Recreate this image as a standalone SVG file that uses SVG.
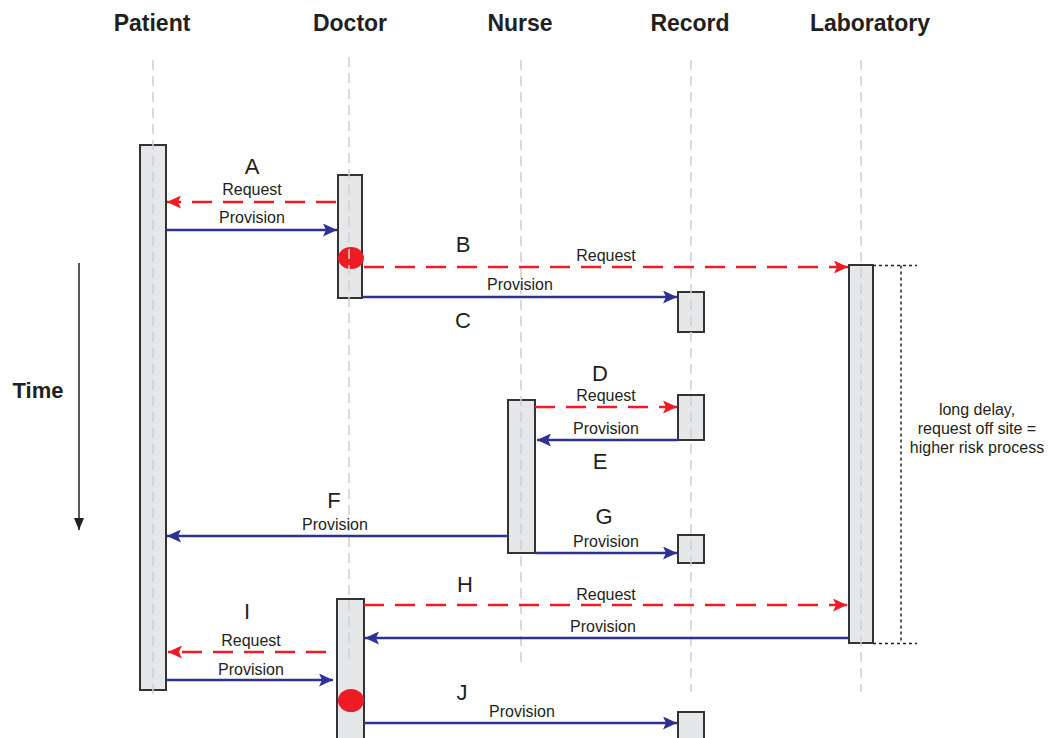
<svg xmlns="http://www.w3.org/2000/svg" width="1050" height="738" viewBox="0 0 1050 738">
<style>
.hdr{font-family:"Liberation Sans",Arial,sans-serif;font-weight:bold;font-size:23px;fill:#231F20;text-anchor:middle}
.lbl{font-family:"Liberation Sans",Arial,sans-serif;font-size:16px;fill:#231F20;text-anchor:middle}
.let{font-family:"Liberation Sans",Arial,sans-serif;font-size:22px;fill:#231F20;text-anchor:middle}
.life{stroke:#CFCFCF;stroke-width:1.5;stroke-dasharray:10,6;fill:none}
.box{fill:#E6E7E8;stroke:#333;stroke-width:2}
.req{stroke:#ED1C24;stroke-width:2.5;stroke-dasharray:20,11;fill:none}
.prov{stroke:#2E3192;stroke-width:2.5;fill:none}
.dot{fill:#ED1C24}
.brk{stroke:#231F20;stroke-width:1.5;stroke-dasharray:3,3;fill:none}
</style>
<defs>
<marker id="ar" markerUnits="userSpaceOnUse" markerWidth="15" markerHeight="13" refX="14" refY="6.5" orient="auto"><path d="M0,0 L14,6.5 L0,13 L3,6.5 z" fill="#ED1C24"/></marker>
<marker id="ab" markerUnits="userSpaceOnUse" markerWidth="15" markerHeight="13" refX="14" refY="6.5" orient="auto"><path d="M0,0 L14,6.5 L0,13 L3,6.5 z" fill="#2E3192"/></marker>
<marker id="ak" markerUnits="userSpaceOnUse" markerWidth="12" markerHeight="10" refX="12" refY="5" orient="auto"><path d="M0,0 L12,5 L0,10 z" fill="#231F20"/></marker>
</defs>
<rect width="1050" height="738" fill="#fff"/>

<g id="patient">
<text class="hdr" x="152" y="31">Patient</text>
<rect class="box" x="140" y="145" width="26" height="545"/>
<line class="life" x1="153" y1="60" x2="153" y2="694"/>
</g>
<g id="doctor">
<text class="hdr" x="350" y="31">Doctor</text>
<rect class="box" x="338" y="175" width="24" height="123"/>
<rect class="box" x="337" y="599" width="27" height="145"/>
<ellipse class="dot" cx="351" cy="258" rx="13" ry="11"/>
<ellipse class="dot" cx="351" cy="700.5" rx="13" ry="11.5"/>
<line class="life" x1="349" y1="57" x2="349" y2="664"/>
</g>
<g id="nurse">
<text class="hdr" x="520" y="31">Nurse</text>
<rect class="box" x="508" y="400" width="27" height="153"/>
<line class="life" x1="521" y1="60" x2="521" y2="668"/>
</g>
<g id="record">
<text class="hdr" x="690" y="31">Record</text>
<rect class="box" x="678" y="292" width="26" height="40"/>
<rect class="box" x="678" y="395" width="26" height="45"/>
<rect class="box" x="678" y="535" width="26" height="28"/>
<rect class="box" x="678" y="712" width="26" height="40"/>
<line class="life" x1="691" y1="60" x2="691" y2="692"/>
</g>
<g id="laboratory">
<text class="hdr" x="870" y="31">Laboratory</text>
<rect class="box" x="849" y="265" width="24" height="378"/>
<line class="life" x1="861" y1="60" x2="861" y2="692"/>
</g>

<g id="time">
<text x="38" y="398" font-family="Liberation Sans,Arial,sans-serif" font-weight="bold" font-size="22" fill="#231F20" text-anchor="middle">Time</text>
<line x1="79" y1="263" x2="79" y2="530" stroke="#231F20" stroke-width="1.5" marker-end="url(#ak)"/>
</g>

<g id="note">
<path class="brk" d="M873,265.5 H917 M901,265.5 V643.5 M873,643.5 H917"/>
<text class="lbl" x="977" y="415">long delay,</text>
<text class="lbl" x="977" y="434">request off site =</text>
<text class="lbl" x="977" y="453">higher risk process</text>
</g>

<g id="connectors">
<line class="req" x1="336" y1="202" x2="167" y2="202" marker-end="url(#ar)"/>
<line class="prov" x1="166" y1="230" x2="337" y2="230" marker-end="url(#ab)"/>
<line class="req" x1="364" y1="267" x2="848" y2="267" marker-end="url(#ar)"/>
<line class="prov" x1="362" y1="297" x2="677" y2="297" marker-end="url(#ab)"/>
<line class="req" x1="535" y1="407" x2="677" y2="407" marker-end="url(#ar)"/>
<line class="prov" x1="678" y1="440" x2="537" y2="440" marker-end="url(#ab)"/>
<line class="prov" x1="508" y1="536" x2="167" y2="536" marker-end="url(#ab)"/>
<line class="prov" x1="535" y1="553" x2="677" y2="553" marker-end="url(#ab)"/>
<line class="req" x1="364" y1="605" x2="847" y2="605" marker-end="url(#ar)"/>
<line class="prov" x1="848" y1="638" x2="365" y2="638" marker-end="url(#ab)"/>
<line class="req" x1="326" y1="652" x2="168" y2="652" marker-end="url(#ar)"/>
<line class="prov" x1="166" y1="680" x2="333" y2="680" marker-end="url(#ab)"/>
<line class="prov" x1="364" y1="723" x2="677" y2="723" marker-end="url(#ab)"/>
</g>

<g id="labels">
<text class="let" x="252" y="174">A</text>
<text class="lbl" x="252" y="195">Request</text>
<text class="lbl" x="252" y="223">Provision</text>
<text class="let" x="463" y="252">B</text>
<text class="lbl" x="606" y="261">Request</text>
<text class="lbl" x="520" y="290">Provision</text>
<text class="let" x="463" y="328">C</text>
<text class="let" x="600" y="381">D</text>
<text class="lbl" x="606" y="401">Request</text>
<text class="lbl" x="606" y="434">Provision</text>
<text class="let" x="600" y="469">E</text>
<text class="let" x="334" y="508">F</text>
<text class="lbl" x="335" y="530">Provision</text>
<text class="let" x="604" y="524">G</text>
<text class="lbl" x="606" y="547">Provision</text>
<text class="let" x="465" y="592">H</text>
<text class="lbl" x="606" y="600">Request</text>
<text class="lbl" x="603" y="632">Provision</text>
<text class="let" x="247" y="619">I</text>
<text class="lbl" x="251" y="646">Request</text>
<text class="lbl" x="251" y="675">Provision</text>
<text class="let" x="462" y="700">J</text>
<text class="lbl" x="522" y="717">Provision</text>
</g>
</svg>
